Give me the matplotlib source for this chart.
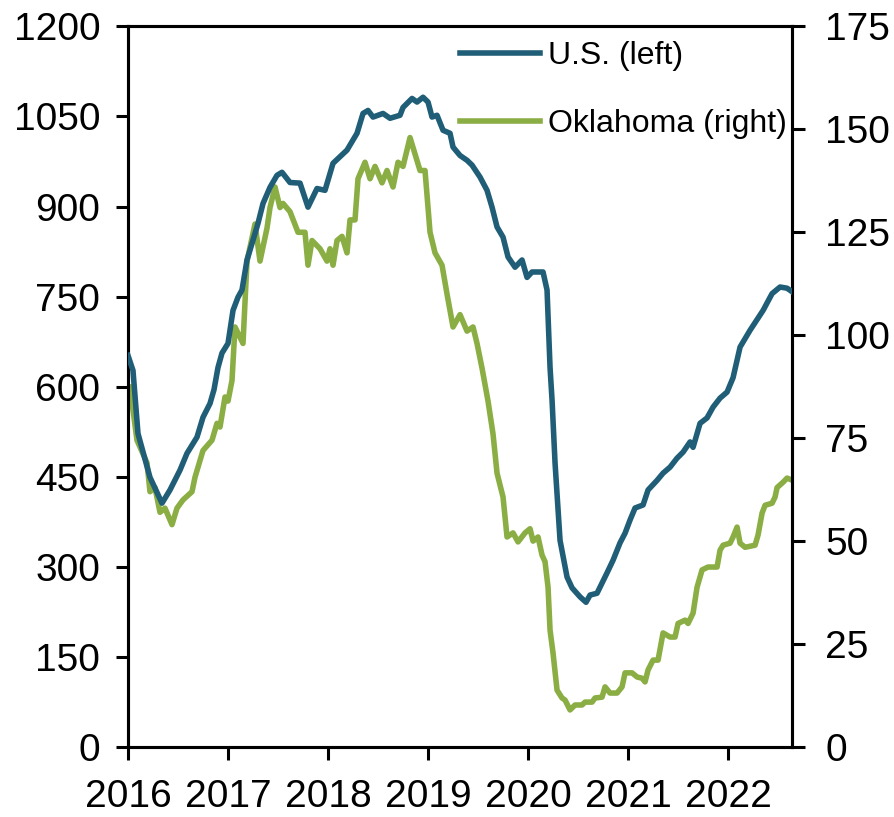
import matplotlib
matplotlib.use("Agg")
import matplotlib.pyplot as plt

# U.S. rig count (left axis), decimal years
us_years = [2016.00, 2016.05, 2016.10, 2016.22, 2016.34, 2016.42, 2016.52, 2016.59, 2016.69, 2016.75,
            2016.82, 2016.86, 2016.90, 2016.94, 2017.00, 2017.02, 2017.05, 2017.10, 2017.14, 2017.19,
            2017.25, 2017.30, 2017.35, 2017.42, 2017.49, 2017.54, 2017.62, 2017.72, 2017.80, 2017.89,
            2017.97, 2018.05, 2018.19, 2018.29, 2018.35, 2018.40, 2018.45, 2018.55, 2018.62, 2018.72,
            2018.75, 2018.84, 2018.89, 2018.95, 2019.00, 2019.04, 2019.09, 2019.15, 2019.22, 2019.25,
            2019.32, 2019.39, 2019.44, 2019.52, 2019.59, 2019.64, 2019.69, 2019.75, 2019.80, 2019.87,
            2019.94, 2019.99, 2020.04, 2020.15, 2020.19, 2020.22, 2020.24, 2020.27, 2020.32, 2020.39,
            2020.44, 2020.52, 2020.58, 2020.62, 2020.69, 2020.74, 2020.79, 2020.85, 2020.92, 2020.97,
            2021.02, 2021.07, 2021.15, 2021.20, 2021.29, 2021.35, 2021.42, 2021.49, 2021.55, 2021.62,
            2021.65, 2021.72, 2021.79, 2021.85, 2021.92, 2021.99, 2022.05, 2022.12, 2022.22, 2022.35,
            2022.44, 2022.52, 2022.59, 2022.65]
us_rigs = [652, 627, 522, 449, 406, 428, 461, 489, 516, 549,
           572, 595, 632, 656, 672, 694, 727, 749, 761, 811,
           844, 872, 905, 932, 952, 957, 940, 939, 899, 930,
           927, 972, 994, 1022, 1055, 1060, 1049, 1055, 1047, 1052,
           1065, 1080, 1074, 1082, 1074, 1049, 1052, 1027, 1022, 999,
           985, 977, 969, 949, 927, 899, 866, 849, 816, 799,
           811, 782, 791, 791, 761, 632, 578, 473, 344, 283,
           265, 250, 241, 253, 256, 273, 290, 311, 340, 356,
           378, 398, 403, 428, 444, 456, 466, 481, 491, 508,
           499, 539, 548, 566, 581, 591, 615, 666, 694, 727,
           755, 766, 764, 757]

# Oklahoma rig count (right axis)
ok_years = [2016.02, 2016.09, 2016.19, 2016.22, 2016.27, 2016.32, 2016.37, 2016.44, 2016.49, 2016.55,
            2016.64, 2016.67, 2016.75, 2016.84, 2016.89, 2016.92, 2016.97, 2017.00, 2017.04, 2017.07,
            2017.15, 2017.19, 2017.27, 2017.32, 2017.39, 2017.42, 2017.47, 2017.52, 2017.55, 2017.62,
            2017.70, 2017.77, 2017.80, 2017.84, 2017.92, 2017.99, 2018.02, 2018.05, 2018.09, 2018.14,
            2018.19, 2018.22, 2018.27, 2018.30, 2018.37, 2018.42, 2018.47, 2018.54, 2018.59, 2018.65,
            2018.70, 2018.75, 2018.82, 2018.87, 2018.92, 2018.97, 2019.02, 2019.07, 2019.14, 2019.19,
            2019.25, 2019.32, 2019.39, 2019.45, 2019.49, 2019.54, 2019.60, 2019.65, 2019.69, 2019.75,
            2019.79, 2019.85, 2019.90, 2019.97, 2020.02, 2020.05, 2020.10, 2020.14, 2020.17, 2020.20,
            2020.22, 2020.25, 2020.29, 2020.34, 2020.37, 2020.42, 2020.47, 2020.54, 2020.57, 2020.64,
            2020.67, 2020.74, 2020.77, 2020.82, 2020.89, 2020.94, 2020.97, 2021.04, 2021.09, 2021.14,
            2021.17, 2021.20, 2021.25, 2021.30, 2021.35, 2021.42, 2021.47, 2021.50, 2021.57, 2021.60,
            2021.65, 2021.69, 2021.74, 2021.80, 2021.89, 2021.92, 2021.95, 2022.02, 2022.05, 2022.09,
            2022.12, 2022.17, 2022.27, 2022.30, 2022.34, 2022.37, 2022.44, 2022.47, 2022.49, 2022.55,
            2022.59, 2022.64]
ok_rigs = [87.4, 74.5, 69, 62, 63, 57, 58, 54, 58, 60,
           62, 65.5, 72, 74.5, 78.6, 77.7, 85, 84, 89, 102,
           98, 118, 127, 118, 126, 131, 136, 131, 132, 130,
           125, 125, 117, 123, 121, 118, 121, 117, 123, 124,
           120, 128, 128, 138, 142, 138, 141, 137, 140, 136,
           142, 141, 148, 144, 140, 140, 125, 120, 117, 110,
           102, 105, 101, 102, 98, 92, 84, 76, 66.5, 60.7,
           51, 52, 49.8, 52, 53, 50, 51, 46.6, 45, 38.8,
           28.4, 22.8, 13.8, 11.9, 11.4, 9, 10.2, 10.2, 10.9, 10.9,
           11.9, 12.1, 14.6, 13.1, 13.1, 14.6, 18, 18, 17, 16.7,
           15.8, 18.7, 21.1, 21.1, 27.7, 26.7, 26.7, 30, 30.8, 30,
           32.5, 38.8, 43, 43.7, 43.7, 47.8, 49, 49.5, 51, 53.4,
           49.5, 48.5, 49, 51.5, 56.8, 58.7, 59.2, 60.7, 63, 64.3,
           65.3, 64.8]

year_ticks = [2016, 2017, 2018, 2019, 2020, 2021, 2022]
left_ticks = [0, 150, 300, 450, 600, 750, 900, 1050, 1200]
right_ticks = [0, 25, 50, 75, 100, 125, 150, 175]

plt.rcParams['font.family'] = ['Liberation Sans', 'DejaVu Sans']

fig = plt.figure(figsize=(8.95, 8.17), dpi=100)
ax = fig.add_axes([0.143, 0.0857, 0.742, 0.882])
ax2 = ax.twinx()

us_color = '#205e78'
ok_color = '#8aae44'

l1, = ax.plot(us_years, us_rigs, color=us_color, lw=4, label='U.S. (left)', zorder=3)
l2, = ax2.plot(ok_years, ok_rigs, color=ok_color, lw=4, label='Oklahoma (right)', zorder=2)
ax.set_zorder(ax2.get_zorder() + 1)
ax.patch.set_visible(False)

ax.set_xlim(2016, 2022.64)
ax.set_ylim(0, 1200)
ax2.set_ylim(0, 175)
ax.set_xticks(year_ticks)
ax.set_yticks(left_ticks)
ax2.set_yticks(right_ticks)

for a in (ax, ax2):
    for s in a.spines.values():
        s.set_linewidth(2.2)
    a.tick_params(labelsize=28, width=2.2, length=9, direction='out')
ax.tick_params(axis='x', pad=14)
ax.tick_params(axis='y', pad=11)
ax2.tick_params(axis='y', pad=15)

ax.legend(handles=[l1, l2], loc='upper left', bbox_to_anchor=(460 / 895, 1 - 41 / 817),
          bbox_transform=fig.transFigure, frameon=False, fontsize=23,
          handlelength=2.5, handletextpad=0.25, labelspacing=1.2,
          borderpad=0, borderaxespad=0)

fig.savefig('out.png', dpi=100)
